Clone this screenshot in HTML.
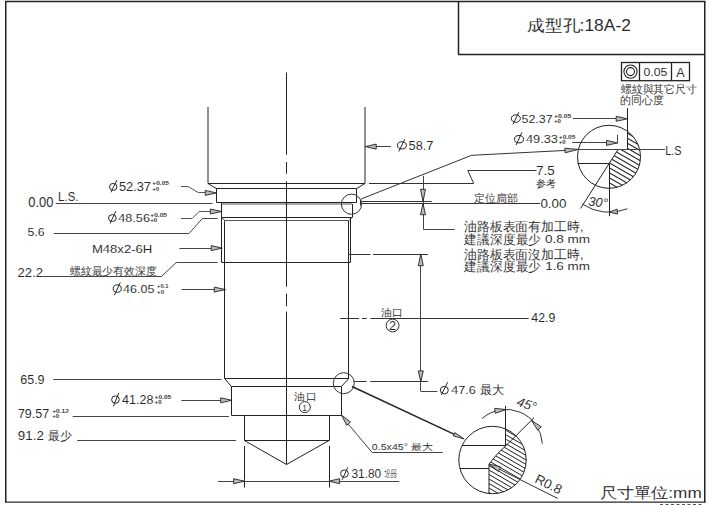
<!DOCTYPE html>
<html><head><meta charset="utf-8"><style>
html,body{margin:0;padding:0;background:#fff;width:709px;height:505px;overflow:hidden}
svg{display:block;font-family:"Liberation Sans",sans-serif}
text{stroke:#fff;stroke-width:0.06px}
</style></head><body>
<svg width="709" height="505" viewBox="0 0 709 505">
<line x1="5.75" y1="1.00" x2="5.75" y2="502.50" stroke="#222" stroke-width="1.5"/>
<line x1="5.00" y1="1.50" x2="705.50" y2="1.50" stroke="#222" stroke-width="1.5"/>
<line x1="704.75" y1="1.00" x2="704.75" y2="502.50" stroke="#222" stroke-width="1.5"/>
<line x1="5.00" y1="502.20" x2="705.50" y2="502.20" stroke="#2a2a2a" stroke-width="1.2"/>
<line x1="660" y1="504.6" x2="703" y2="504.6" stroke="#555" stroke-width="1.2" stroke-dasharray="3,2.5"/>
<line x1="458.50" y1="1.50" x2="458.50" y2="54.50" stroke="#222" stroke-width="1.5"/>
<line x1="458.00" y1="54.50" x2="705.00" y2="54.50" stroke="#222" stroke-width="1.5"/>
<text transform="translate(527.14,31.06) scale(1.094,1)" font-size="15.88" fill="#262626">成型孔</text>
<text transform="translate(579.54,30.54) scale(1.053,1)" font-size="16.56" fill="#262626">:18A-2</text>
<rect x="621.5" y="62.5" width="68" height="18.2" fill="none" stroke="#222" stroke-width="1.3"/>
<line x1="639.50" y1="62.50" x2="639.50" y2="80.70" stroke="#222" stroke-width="1.3"/>
<line x1="671.50" y1="62.50" x2="671.50" y2="80.70" stroke="#222" stroke-width="1.3"/>
<circle cx="630.50" cy="71.60" r="6.60" fill="none" stroke="#222" stroke-width="1.1"/>
<circle cx="630.50" cy="71.60" r="4.00" fill="none" stroke="#222" stroke-width="1.1"/>
<text transform="translate(643.41,76.32) scale(1.042,1)" font-size="11.83" fill="#262626">0.05</text>
<text transform="translate(676.20,76.50) scale(1.034,1)" font-size="12.09" fill="#262626">A</text>
<text transform="translate(620.63,93.22) scale(0.989,1)" font-size="11.30" fill="#262626">螺紋與其它尺寸</text>
<text transform="translate(620.10,103.92) scale(0.996,1)" font-size="11.30" fill="#262626">的同心度</text>
<line x1="208.00" y1="107.00" x2="208.00" y2="183.50" stroke="#222" stroke-width="1"/>
<line x1="365.00" y1="107.00" x2="365.00" y2="183.50" stroke="#222" stroke-width="1"/>
<line x1="208.00" y1="183.50" x2="365.00" y2="183.50" stroke="#222" stroke-width="1"/>
<polyline points="208.00,183.50 216.30,188.50 356.70,188.50 365.00,183.50" fill="none" stroke="#222" stroke-width="1" stroke-linejoin="miter"/>
<polyline points="216.50,188.30 216.50,202.50 356.50,202.50 356.50,188.30" fill="none" stroke="#222" stroke-width="1" stroke-linejoin="miter"/>
<line x1="221.50" y1="204.00" x2="352.00" y2="204.00" stroke="#555" stroke-width="1"/>
<line x1="221.50" y1="202.40" x2="221.50" y2="217.70" stroke="#222" stroke-width="1"/>
<line x1="352.50" y1="204.00" x2="352.50" y2="217.70" stroke="#222" stroke-width="1"/>
<line x1="221.50" y1="217.50" x2="352.00" y2="217.50" stroke="#222" stroke-width="1"/>
<polyline points="221.50,217.70 224.90,220.50 348.70,220.50 352.00,217.70" fill="none" stroke="#555" stroke-width="1" stroke-linejoin="miter"/>
<line x1="221.50" y1="217.70" x2="221.50" y2="262.60" stroke="#222" stroke-width="1"/>
<line x1="350.50" y1="217.70" x2="350.50" y2="262.60" stroke="#222" stroke-width="1"/>
<line x1="221.90" y1="262.50" x2="350.20" y2="262.50" stroke="#222" stroke-width="1"/>
<line x1="224.50" y1="220.70" x2="224.50" y2="378.70" stroke="#222" stroke-width="1"/>
<line x1="348.50" y1="220.70" x2="348.50" y2="378.70" stroke="#222" stroke-width="1"/>
<line x1="224.90" y1="378.50" x2="348.70" y2="378.50" stroke="#222" stroke-width="1"/>
<polyline points="224.90,378.70 231.30,386.50 341.40,386.50 348.70,378.70" fill="none" stroke="#222" stroke-width="1" stroke-linejoin="miter"/>
<polyline points="231.50,386.60 231.50,415.50 341.50,415.50 341.50,386.60" fill="none" stroke="#222" stroke-width="1" stroke-linejoin="miter"/>
<polyline points="244.50,415.00 244.50,440.50 329.50,440.50 329.50,415.00" fill="none" stroke="#222" stroke-width="1" stroke-linejoin="miter"/>
<polyline points="244.40,440.50 286.50,464.50 329.00,440.50" fill="none" stroke="#222" stroke-width="1" stroke-linejoin="miter"/>
<line x1="360.50" y1="199.50" x2="360.50" y2="205.50" stroke="#333" stroke-width="1"/>
<line x1="286.50" y1="72.50" x2="286.50" y2="154.80" stroke="#222" stroke-width="1"/>
<line x1="286.50" y1="162.00" x2="286.50" y2="173.70" stroke="#222" stroke-width="1"/>
<line x1="286.50" y1="181.40" x2="286.50" y2="286.70" stroke="#222" stroke-width="1"/>
<line x1="286.50" y1="293.70" x2="286.50" y2="306.10" stroke="#222" stroke-width="1"/>
<line x1="286.50" y1="311.70" x2="286.50" y2="464.50" stroke="#222" stroke-width="1"/>
<ellipse cx="113.20" cy="186.90" rx="3.70" ry="3.50" fill="none" stroke="#262626" stroke-width="1"/>
<line x1="110.90" y1="192.30" x2="116.90" y2="180.00" stroke="#262626" stroke-width="1"/>
<text transform="translate(118.90,190.70) scale(1.025,1)" font-size="12.52" fill="#262626">52.37</text>
<text transform="translate(152.29,184.80) scale(1.083,1)" font-size="6.12" fill="#262626" font-weight="bold">+0.05</text>
<text transform="translate(152.31,190.80) scale(0.994,1)" font-size="6.12" fill="#262626" font-weight="bold">+0</text>
<polyline points="181.00,186.50 188.00,186.50 198.20,192.50 205.50,192.50" fill="none" stroke="#555" stroke-width="1" stroke-linejoin="miter"/>
<polygon points="216.30,192.90 205.20,195.40 205.20,190.40" fill="#bbb" stroke="#222" stroke-width="0.9" stroke-linejoin="round"/>
<text transform="translate(28.30,207.08) scale(0.937,1)" font-size="13.77" fill="#262626">0.00</text>
<text transform="translate(58.11,200.71) scale(0.923,1)" font-size="12.38" fill="#262626">L.S.</text>
<line x1="55.70" y1="203.50" x2="212.60" y2="203.50" stroke="#444" stroke-width="1"/>
<ellipse cx="112.35" cy="218.05" rx="3.85" ry="3.45" fill="none" stroke="#262626" stroke-width="1"/>
<line x1="110.10" y1="223.50" x2="115.90" y2="211.10" stroke="#262626" stroke-width="1"/>
<text transform="translate(118.20,221.83) scale(1.142,1)" font-size="11.13" fill="#262626">48.56</text>
<text transform="translate(150.29,216.51) scale(1.191,1)" font-size="5.57" fill="#262626" font-weight="bold">+0.05</text>
<text transform="translate(150.31,221.91) scale(1.093,1)" font-size="5.57" fill="#262626" font-weight="bold">+0</text>
<polyline points="181.00,218.50 192.20,218.50 199.00,211.50 210.50,211.50" fill="none" stroke="#555" stroke-width="1" stroke-linejoin="miter"/>
<polygon points="221.80,211.50 210.30,214.00 210.30,209.00" fill="#bbb" stroke="#222" stroke-width="0.9" stroke-linejoin="round"/>
<text transform="translate(27.51,236.32) scale(1.058,1)" font-size="11.69" fill="#262626">5.6</text>
<polyline points="53.70,233.50 188.90,233.50 202.40,218.50 217.60,218.50" fill="none" stroke="#444" stroke-width="1" stroke-linejoin="miter"/>
<text transform="translate(91.88,252.62) scale(1.120,1)" font-size="11.69" fill="#262626">M48x2-6H</text>
<line x1="179.40" y1="248.50" x2="211.50" y2="248.50" stroke="#444" stroke-width="1"/>
<polygon points="222.30,248.10 211.20,250.60 211.20,245.60" fill="#bbb" stroke="#222" stroke-width="0.9" stroke-linejoin="round"/>
<text transform="translate(17.58,276.50) scale(1.014,1)" font-size="12.94" fill="#262626">22.2</text>
<polyline points="42.60,276.50 161.40,276.50 176.30,262.50 217.50,262.50" fill="none" stroke="#444" stroke-width="1" stroke-linejoin="miter"/>
<text transform="translate(69.84,274.67) scale(0.979,1)" font-size="10.90" fill="#262626">螺紋最少有效深度</text>
<ellipse cx="117.25" cy="288.60" rx="4.05" ry="3.70" fill="none" stroke="#262626" stroke-width="1"/>
<line x1="114.40" y1="295.20" x2="120.30" y2="282.40" stroke="#262626" stroke-width="1"/>
<text transform="translate(123.10,292.62) scale(1.070,1)" font-size="11.69" fill="#262626">46.05</text>
<text transform="translate(157.12,287.82) scale(1.167,1)" font-size="4.87" fill="#262626" font-weight="bold">+0.1</text>
<text transform="translate(157.11,293.52) scale(1.249,1)" font-size="4.87" fill="#262626" font-weight="bold">+0</text>
<line x1="181.50" y1="289.50" x2="214.50" y2="289.50" stroke="#444" stroke-width="1"/>
<polygon points="225.50,289.60 214.30,292.10 214.30,287.10" fill="#bbb" stroke="#222" stroke-width="0.9" stroke-linejoin="round"/>
<text transform="translate(20.21,384.10) scale(1.001,1)" font-size="12.52" fill="#262626">65.9</text>
<line x1="53.20" y1="379.50" x2="221.60" y2="379.50" stroke="#444" stroke-width="1"/>
<ellipse cx="115.45" cy="399.60" rx="3.85" ry="3.70" fill="none" stroke="#262626" stroke-width="1"/>
<line x1="113.40" y1="406.30" x2="118.80" y2="392.90" stroke="#262626" stroke-width="1"/>
<text transform="translate(122.10,403.81) scale(1.045,1)" font-size="11.97" fill="#262626">41.28</text>
<text transform="translate(154.59,398.61) scale(1.101,1)" font-size="5.98" fill="#262626" font-weight="bold">+0.05</text>
<text transform="translate(154.61,404.21) scale(1.017,1)" font-size="5.98" fill="#262626" font-weight="bold">+0</text>
<line x1="181.30" y1="400.50" x2="220.80" y2="400.50" stroke="#444" stroke-width="1"/>
<polygon points="231.90,400.30 220.70,402.80 220.70,397.80" fill="#bbb" stroke="#222" stroke-width="0.9" stroke-linejoin="round"/>
<text transform="translate(17.92,418.00) scale(0.953,1)" font-size="13.08" fill="#262626">79.57</text>
<text transform="translate(52.19,412.81) scale(1.169,1)" font-size="5.70" fill="#262626" font-weight="bold">+0.12</text>
<text transform="translate(52.21,418.11) scale(1.067,1)" font-size="5.70" fill="#262626" font-weight="bold">+0</text>
<line x1="72.70" y1="416.50" x2="229.00" y2="416.50" stroke="#444" stroke-width="1"/>
<text transform="translate(17.87,440.49) scale(0.989,1)" font-size="13.50" fill="#262626">91.2</text>
<text transform="translate(48.42,440.20) scale(0.987,1)" font-size="12.30" fill="#262626">最少</text>
<line x1="77.20" y1="440.50" x2="236.00" y2="440.50" stroke="#444" stroke-width="1"/>
<line x1="244.50" y1="446.00" x2="244.50" y2="487.60" stroke="#222" stroke-width="1"/>
<line x1="329.50" y1="446.00" x2="329.50" y2="487.60" stroke="#222" stroke-width="1"/>
<line x1="218.00" y1="481.50" x2="399.20" y2="481.50" stroke="#444" stroke-width="1"/>
<polygon points="244.40,481.20 233.60,483.70 233.60,478.70" fill="#bbb" stroke="#222" stroke-width="0.9" stroke-linejoin="round"/>
<polygon points="329.00,481.20 339.60,478.70 339.60,483.70" fill="#bbb" stroke="#222" stroke-width="0.9" stroke-linejoin="round"/>
<ellipse cx="344.45" cy="473.60" rx="3.85" ry="3.70" fill="none" stroke="#262626" stroke-width="1"/>
<line x1="342.10" y1="479.80" x2="347.80" y2="467.40" stroke="#262626" stroke-width="1"/>
<text transform="translate(351.43,477.81) scale(0.994,1)" font-size="11.97" fill="#262626">31.80</text>
<text transform="translate(384.07,474.40) scale(0.761,1)" font-size="6.40" fill="#262626">+0.02</text>
<text transform="translate(384.13,478.20) scale(0.842,1)" font-size="6.40" fill="#262626">-0.03</text>
<line x1="376.00" y1="146.50" x2="391.00" y2="146.50" stroke="#444" stroke-width="1"/>
<polygon points="365.30,146.60 376.20,144.10 376.20,149.10" fill="#bbb" stroke="#222" stroke-width="0.9" stroke-linejoin="round"/>
<ellipse cx="401.90" cy="145.35" rx="4.50" ry="3.55" fill="none" stroke="#262626" stroke-width="1"/>
<line x1="398.80" y1="151.50" x2="404.80" y2="139.20" stroke="#262626" stroke-width="1"/>
<text transform="translate(408.60,149.61) scale(1.058,1)" font-size="12.10" fill="#262626">58.7</text>
<line x1="369.00" y1="183.50" x2="473.70" y2="183.50" stroke="#333" stroke-width="1"/>
<polyline points="473.70,183.40 467.80,170.50 536.50,170.50" fill="none" stroke="#333" stroke-width="1" stroke-linejoin="miter"/>
<text transform="translate(536.07,174.71) scale(1.110,1)" font-size="12.10" fill="#262626">7.5</text>
<text transform="translate(536.05,186.54) scale(0.999,1)" font-size="10.30" fill="#262626">参考</text>
<polyline points="423.50,175.80 423.50,229.50 454.70,229.50" fill="none" stroke="#444" stroke-width="1" stroke-linejoin="miter"/>
<polygon points="423.00,201.50 420.50,189.30 425.50,189.30" fill="#bbb" stroke="#222" stroke-width="0.9" stroke-linejoin="round"/>
<polygon points="423.00,203.60 425.50,214.70 420.50,214.70" fill="#bbb" stroke="#222" stroke-width="0.9" stroke-linejoin="round"/>
<line x1="360.40" y1="201.50" x2="431.70" y2="201.50" stroke="#333" stroke-width="1"/>
<line x1="360.40" y1="203.50" x2="540.00" y2="203.50" stroke="#333" stroke-width="1"/>
<text transform="translate(474.00,202.29) scale(0.993,1)" font-size="10.80" fill="#262626">定位扃部</text>
<text transform="translate(540.38,207.70) scale(1.046,1)" font-size="12.80" fill="#262626">0.00</text>
<circle cx="351.50" cy="204.20" r="10.10" fill="none" stroke="#333" stroke-width="1"/>
<polyline points="361.00,199.00 471.60,155.30 566.00,150.40" fill="none" stroke="#333" stroke-width="1" stroke-linejoin="miter"/>
<polygon points="578.30,149.40 565.19,152.79 564.81,148.21" fill="#bbb" stroke="#222" stroke-width="0.9" stroke-linejoin="round"/>
<ellipse cx="515.85" cy="118.55" rx="4.55" ry="3.75" fill="none" stroke="#262626" stroke-width="1"/>
<line x1="512.90" y1="124.40" x2="518.80" y2="112.20" stroke="#262626" stroke-width="1"/>
<text transform="translate(521.51,122.62) scale(1.051,1)" font-size="11.83" fill="#262626">52.37</text>
<text transform="translate(553.99,117.91) scale(1.169,1)" font-size="5.84" fill="#262626" font-weight="bold">+0.05</text>
<text transform="translate(554.01,122.71) scale(1.041,1)" font-size="5.84" fill="#262626" font-weight="bold">+0</text>
<line x1="572.70" y1="118.50" x2="616.00" y2="118.50" stroke="#444" stroke-width="1"/>
<polygon points="627.40,118.80 616.20,121.30 616.20,116.30" fill="#bbb" stroke="#222" stroke-width="0.9" stroke-linejoin="round"/>
<ellipse cx="519.00" cy="139.20" rx="4.50" ry="3.70" fill="none" stroke="#262626" stroke-width="1"/>
<line x1="516.10" y1="145.00" x2="521.90" y2="132.30" stroke="#262626" stroke-width="1"/>
<text transform="translate(526.00,143.22) scale(1.091,1)" font-size="11.69" fill="#262626">49.33</text>
<text transform="translate(558.79,138.62) scale(1.280,1)" font-size="5.15" fill="#262626" font-weight="bold">+0.05</text>
<text transform="translate(558.81,143.92) scale(1.182,1)" font-size="5.15" fill="#262626" font-weight="bold">+0</text>
<line x1="572.20" y1="142.50" x2="606.50" y2="142.50" stroke="#444" stroke-width="1"/>
<polygon points="617.50,142.90 606.50,145.40 606.50,140.40" fill="#bbb" stroke="#222" stroke-width="0.9" stroke-linejoin="round"/>
<line x1="617.50" y1="134.80" x2="617.50" y2="143.50" stroke="#444" stroke-width="1"/>
<defs><clipPath id="h1"><path d="M627.4,131.23 L627.4,149.1 L618.3,149.1 L609.3,164.1 L609.3,188.30 A31.5,31.5 0 0 0 627.4,131.23 Z"/></clipPath></defs>
<path d="M570,-50.00 L660,2.00 M570,-45.00 L660,7.00 M570,-40.00 L660,12.00 M570,-35.00 L660,17.00 M570,-30.00 L660,22.00 M570,-25.00 L660,27.00 M570,-20.00 L660,32.00 M570,-15.00 L660,37.00 M570,-10.00 L660,42.00 M570,-5.00 L660,47.00 M570,0.00 L660,52.00 M570,5.00 L660,57.00 M570,10.00 L660,62.00 M570,15.00 L660,67.00 M570,20.00 L660,72.00 M570,25.00 L660,77.00 M570,30.00 L660,82.00 M570,35.00 L660,87.00 M570,40.00 L660,92.00 M570,45.00 L660,97.00 M570,50.00 L660,102.00 M570,55.00 L660,107.00 M570,60.00 L660,112.00 M570,65.00 L660,117.00 M570,70.00 L660,122.00 M570,75.00 L660,127.00 M570,80.00 L660,132.00 M570,85.00 L660,137.00 M570,90.00 L660,142.00 M570,95.00 L660,147.00 M570,100.00 L660,152.00 M570,105.00 L660,157.00 M570,110.00 L660,162.00 M570,115.00 L660,167.00 M570,120.00 L660,172.00 M570,125.00 L660,177.00 M570,130.00 L660,182.00 M570,135.00 L660,187.00 M570,140.00 L660,192.00 M570,145.00 L660,197.00 M570,150.00 L660,202.00 M570,155.00 L660,207.00 M570,160.00 L660,212.00 M570,165.00 L660,217.00 M570,170.00 L660,222.00 M570,175.00 L660,227.00 M570,180.00 L660,232.00 M570,185.00 L660,237.00 M570,190.00 L660,242.00 M570,195.00 L660,247.00 M570,200.00 L660,252.00 M570,205.00 L660,257.00 M570,210.00 L660,262.00 M570,215.00 L660,267.00 M570,220.00 L660,272.00 M570,225.00 L660,277.00 M570,230.00 L660,282.00 M570,235.00 L660,287.00 M570,240.00 L660,292.00 M570,245.00 L660,297.00 M570,250.00 L660,302.00 M570,255.00 L660,307.00 M570,260.00 L660,312.00 M570,265.00 L660,317.00 M570,270.00 L660,322.00 M570,275.00 L660,327.00 M570,280.00 L660,332.00 M570,285.00 L660,337.00 M570,290.00 L660,342.00 M570,295.00 L660,347.00" stroke="#222" stroke-width="1.05" clip-path="url(#h1)"/>
<circle cx="609.00" cy="156.80" r="31.50" fill="none" stroke="#222" stroke-width="1"/>
<line x1="627.50" y1="108.00" x2="627.50" y2="149.10" stroke="#222" stroke-width="1"/>
<line x1="578.00" y1="149.50" x2="665.00" y2="149.50" stroke="#444" stroke-width="1"/>
<text transform="translate(665.25,154.70) scale(0.840,1)" font-size="12.94" fill="#262626">L.S</text>
<line x1="577.60" y1="163.50" x2="609.30" y2="163.50" stroke="#222" stroke-width="1"/>
<line x1="618.30" y1="149.10" x2="580.60" y2="208.40" stroke="#222" stroke-width="1"/>
<line x1="609.50" y1="164.10" x2="609.50" y2="216.20" stroke="#222" stroke-width="1"/>
<path d="M582.35,204.06 A48.2,48.2 0 0 0 627.36,208.79" fill="none" stroke="#333" stroke-width="1"/>
<polygon points="609.50,212.20 617.11,209.11 617.49,214.09" fill="#bbb" stroke="#222" stroke-width="0.9" stroke-linejoin="round"/>
<text transform="translate(588,205.5) rotate(6)" font-size="12.8" font-style="italic" fill="#262626">30°</text>
<text transform="translate(463.71,231.08) scale(0.990,1)" font-size="13.00" fill="#262626">油路板表面有加工時,</text>
<text transform="translate(464.30,243.98) scale(0.972,1)" font-size="13.00" fill="#262626">建議深度最少</text>
<text transform="translate(544.88,242.72) scale(1.172,1)" font-size="11.55" fill="#262626">0.8 mm</text>
<text transform="translate(463.71,259.38) scale(0.990,1)" font-size="13.00" fill="#262626">油路板表面沒加工時,</text>
<text transform="translate(464.30,271.38) scale(0.972,1)" font-size="13.00" fill="#262626">建議深度最少</text>
<text transform="translate(545.16,269.73) scale(1.208,1)" font-size="11.13" fill="#262626">1.6 mm</text>
<line x1="348.80" y1="254.50" x2="370.40" y2="254.50" stroke="#333" stroke-width="1"/>
<line x1="373.00" y1="254.50" x2="427.80" y2="254.50" stroke="#333" stroke-width="1"/>
<line x1="420.50" y1="254.00" x2="420.50" y2="391.30" stroke="#444" stroke-width="1"/>
<line x1="420.80" y1="391.50" x2="437.40" y2="391.50" stroke="#444" stroke-width="1"/>
<polygon points="420.80,254.00 423.30,265.70 418.30,265.70" fill="#bbb" stroke="#222" stroke-width="0.9" stroke-linejoin="round"/>
<polygon points="420.80,381.60 418.30,370.90 423.30,370.90" fill="#bbb" stroke="#222" stroke-width="0.9" stroke-linejoin="round"/>
<line x1="340.30" y1="318.50" x2="359.10" y2="318.50" stroke="#333" stroke-width="1"/>
<line x1="362.00" y1="318.50" x2="366.70" y2="318.50" stroke="#333" stroke-width="1"/>
<line x1="370.40" y1="318.50" x2="528.70" y2="318.50" stroke="#333" stroke-width="1"/>
<text transform="translate(380.63,315.70) scale(1.087,1)" font-size="10.50" fill="#262626">油口</text>
<circle cx="392.60" cy="325.50" r="6.40" fill="none" stroke="#333" stroke-width="1"/>
<text transform="translate(389.00,329.70) scale(1.071,1)" font-size="11.95" fill="#262626">2</text>
<text transform="translate(531.31,321.71) scale(0.996,1)" font-size="12.38" fill="#262626">42.9</text>
<circle cx="343.80" cy="383.20" r="10.50" fill="none" stroke="#333" stroke-width="1"/>
<line x1="353.80" y1="381.50" x2="366.70" y2="381.50" stroke="#333" stroke-width="1"/>
<line x1="370.30" y1="381.50" x2="427.80" y2="381.50" stroke="#333" stroke-width="1"/>
<line x1="352.00" y1="386.50" x2="456.00" y2="435.20" stroke="#222" stroke-width="1.4"/>
<polygon points="464.20,439.00 453.23,435.83 454.77,432.57" fill="#bbb" stroke="#222" stroke-width="0.9" stroke-linejoin="round"/>
<ellipse cx="444.30" cy="390.15" rx="4.00" ry="3.75" fill="none" stroke="#262626" stroke-width="1"/>
<line x1="441.30" y1="394.90" x2="447.70" y2="382.20" stroke="#262626" stroke-width="1"/>
<text transform="translate(451.20,394.22) scale(1.065,1)" font-size="11.83" fill="#262626">47.6</text>
<text transform="translate(480.31,394.00) scale(1.011,1)" font-size="12.30" fill="#262626">最大</text>
<text transform="translate(294.13,400.36) scale(1.081,1)" font-size="10.20" fill="#262626">油口</text>
<circle cx="304.80" cy="407.10" r="5.50" fill="none" stroke="#333" stroke-width="1"/>
<text transform="translate(302.52,410.60) scale(0.776,1)" font-size="9.96" fill="#262626">1</text>
<polyline points="347.30,423.00 372.20,452.50 442.80,452.50" fill="none" stroke="#444" stroke-width="1" stroke-linejoin="miter"/>
<polygon points="341.40,415.00 350.52,422.00 346.68,425.20" fill="#bbb" stroke="#222" stroke-width="0.9" stroke-linejoin="round"/>
<text transform="translate(371.87,449.61) scale(1.219,1)" font-size="8.70" fill="#262626">0.5x45° 最大</text>
<defs><clipPath id="h2"><path d="M506.2,429.21 L506.2,445.6 Q498,452 489,464.1 L489,493.52 A33.7,33.7 0 0 0 506.2,429.21 Z"/></clipPath></defs>
<path d="M450,245.00 L540,297.00 M450,249.50 L540,301.50 M450,254.00 L540,306.00 M450,258.50 L540,310.50 M450,263.00 L540,315.00 M450,267.50 L540,319.50 M450,272.00 L540,324.00 M450,276.50 L540,328.50 M450,281.00 L540,333.00 M450,285.50 L540,337.50 M450,290.00 L540,342.00 M450,294.50 L540,346.50 M450,299.00 L540,351.00 M450,303.50 L540,355.50 M450,308.00 L540,360.00 M450,312.50 L540,364.50 M450,317.00 L540,369.00 M450,321.50 L540,373.50 M450,326.00 L540,378.00 M450,330.50 L540,382.50 M450,335.00 L540,387.00 M450,339.50 L540,391.50 M450,344.00 L540,396.00 M450,348.50 L540,400.50 M450,353.00 L540,405.00 M450,357.50 L540,409.50 M450,362.00 L540,414.00 M450,366.50 L540,418.50 M450,371.00 L540,423.00 M450,375.50 L540,427.50 M450,380.00 L540,432.00 M450,384.50 L540,436.50 M450,389.00 L540,441.00 M450,393.50 L540,445.50 M450,398.00 L540,450.00 M450,402.50 L540,454.50 M450,407.00 L540,459.00 M450,411.50 L540,463.50 M450,416.00 L540,468.00 M450,420.50 L540,472.50 M450,425.00 L540,477.00 M450,429.50 L540,481.50 M450,434.00 L540,486.00 M450,438.50 L540,490.50 M450,443.00 L540,495.00 M450,447.50 L540,499.50 M450,452.00 L540,504.00 M450,456.50 L540,508.50 M450,461.00 L540,513.00 M450,465.50 L540,517.50 M450,470.00 L540,522.00 M450,474.50 L540,526.50 M450,479.00 L540,531.00 M450,483.50 L540,535.50 M450,488.00 L540,540.00 M450,492.50 L540,544.50 M450,497.00 L540,549.00 M450,501.50 L540,553.50 M450,506.00 L540,558.00 M450,510.50 L540,562.50 M450,515.00 L540,567.00 M450,519.50 L540,571.50 M450,524.00 L540,576.00 M450,528.50 L540,580.50 M450,533.00 L540,585.00 M450,537.50 L540,589.50 M450,542.00 L540,594.00 M450,546.50 L540,598.50 M450,551.00 L540,603.00 M450,555.50 L540,607.50" stroke="#222" stroke-width="1.0" clip-path="url(#h2)"/>
<circle cx="492.50" cy="460.00" r="33.70" fill="none" stroke="#222" stroke-width="1"/>
<line x1="505.50" y1="405.90" x2="505.50" y2="445.60" stroke="#222" stroke-width="1"/>
<path d="M506,445.6 Q498,452 489,464.1 L489,494" fill="none" stroke="#222" stroke-width="1"/>
<line x1="462.03" y1="445.50" x2="506.00" y2="445.50" stroke="#222" stroke-width="1"/>
<line x1="459.89" y1="468.50" x2="489.00" y2="468.50" stroke="#222" stroke-width="1"/>
<line x1="506.00" y1="445.60" x2="534.10" y2="417.60" stroke="#222" stroke-width="1"/>
<path d="M481.98,418.70 A36.2,36.2 0 0 1 542.35,443.71" fill="none" stroke="#333" stroke-width="1"/>
<polygon points="505.90,409.60 495.27,413.28 494.73,408.32" fill="#bbb" stroke="#222" stroke-width="0.9" stroke-linejoin="round"/>
<polygon points="531.70,420.70 541.27,426.73 537.73,430.27" fill="#bbb" stroke="#222" stroke-width="0.9" stroke-linejoin="round"/>
<text transform="translate(516,405.5) rotate(18)" font-size="13" font-style="italic" fill="#262626">45°</text>
<line x1="497.00" y1="468.00" x2="557.80" y2="498.50" stroke="#333" stroke-width="1"/>
<polygon points="489.20,464.10 500.59,466.85 498.41,471.35" fill="#bbb" stroke="#222" stroke-width="0.9" stroke-linejoin="round"/>
<text transform="translate(534,482) rotate(26.5)" font-size="13.3" fill="#262626">R0.8</text>
<text transform="translate(599.74,498.11) scale(1.161,1)" font-size="14.85" fill="#262626">尺寸單位:mm</text>
</svg></body></html>
